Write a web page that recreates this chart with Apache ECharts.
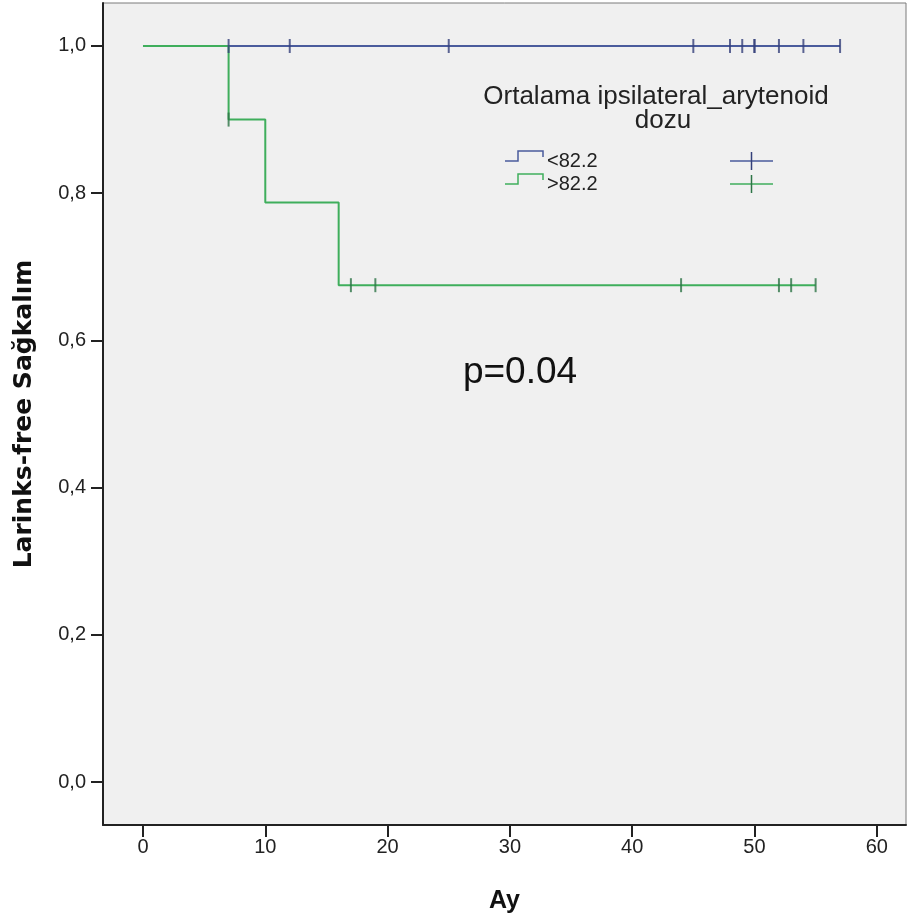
<!DOCTYPE html>
<html>
<head>
<meta charset="utf-8">
<script src="https://cdn.jsdelivr.net/npm/echarts@6/dist/echarts.min.js"></script>
<style>
  html, body { margin: 0; padding: 0; background: #ffffff; }
  #chart { width: 907px; height: 923px; }
</style>
</head>
<body>
<div id="chart"></div>
<script>
// Kaplan-Meier step curves (time in months, survival proportion)
const lowDoseTimes = [0, 57];
const lowDoseSurv = [1.0, 1.0];
const highDoseTimes = [0, 7, 10, 16, 55];
const highDoseSurv = [1.0, 0.9, 0.7875, 0.675, 0.675];

// Censored observations
const lowDoseCensorTimes = [7, 12, 25, 45, 48, 49, 50, 50, 52, 54, 57];
const lowDoseCensorSurv = [1, 1, 1, 1, 1, 1, 1, 1, 1, 1, 1];
const highDoseCensorTimes = [7, 17, 19, 44, 52, 53, 55];
const highDoseCensorSurv = [0.9, 0.675, 0.675, 0.675, 0.675, 0.675, 0.675];

// Axis ticks
const xTicks = [0, 10, 20, 30, 40, 50, 60];
const yTicks = [0, 0.2, 0.4, 0.6, 0.8, 1.0];

const groupNames = ['<82.2', '>82.2'];
const legendTitle = ['Ortalama ipsilateral_arytenoid', 'dozu'];
const pText = 'p=0.04';

const blue = '#4a5b9c';
const green = '#3fae5c';
const blueMark = '#34407a';
const greenMark = '#2d7446';

const pairs = (xs, ys) => xs.map((x, i) => [x, ys[i]]);

const chart = echarts.init(document.getElementById('chart'), null, { renderer: 'canvas' });

const baseFont = '"Liberation Sans", Arial, sans-serif';
const legendX = 505, legendY = 161, rowGap = 23;
const legendGraphics = [
  { type: 'text', x: 656, y: 97, style: { text: legendTitle[0], fill: '#222', font: '26px ' + baseFont, align: 'center', verticalAlign: 'middle' } },
  { type: 'text', x: 663, y: 121, style: { text: legendTitle[1], fill: '#222', font: '26px ' + baseFont, align: 'center', verticalAlign: 'middle' } }
];
[blue, green].forEach((c, i) => {
  const y = legendY + i * rowGap;
  legendGraphics.push(
    { type: 'polyline', shape: { points: [[legendX, y], [legendX + 13, y], [legendX + 13, y - 10], [legendX + 38, y - 10], [legendX + 38, y - 4]] }, style: { stroke: c, lineWidth: 1.5, fill: null } },
    { type: 'text', x: legendX + 42, y: y, style: { text: groupNames[i], fill: '#222', font: '20px ' + baseFont, verticalAlign: 'middle' } },
    { type: 'line', shape: { x1: 730, y1: y, x2: 773, y2: y }, style: { stroke: c, lineWidth: 1.5 } },
    { type: 'line', shape: { x1: 751.5, y1: y - 9, x2: 751.5, y2: y + 9 }, style: { stroke: i === 0 ? blueMark : greenMark, lineWidth: 1.5 } }
  );
});
legendGraphics.push({
  type: 'text', x: 520, y: 373,
  style: { text: pText, fill: '#111', font: '37px ' + baseFont, align: 'center', verticalAlign: 'middle' }
});

const option = {
  backgroundColor: '#ffffff',
  animation: false,
  grid: {
    left: 103, top: 3, right: 1, bottom: 98,
    show: true, backgroundColor: '#f0f0f0', borderColor: '#7a7a7a', borderWidth: 1
  },
  xAxis: {
    type: 'value',
    min: -3.27, max: 62.39,
    name: 'Ay', nameLocation: 'middle', nameGap: 64,
    nameTextStyle: { fontFamily: '"Liberation Sans Narrow", "Liberation Sans", Arial, sans-serif', fontWeight: 'bold', fontSize: 25, color: '#111' },
    axisLine: { onZero: false, lineStyle: { color: '#222', width: 2 } },
    axisTick: { show: true, customValues: xTicks, length: 12, lineStyle: { color: '#222', width: 2 } },
    axisLabel: { customValues: xTicks, fontFamily: baseFont, fontSize: 20, color: '#222', margin: 12 },
    splitLine: { show: false }
  },
  yAxis: {
    type: 'value',
    min: -0.0584, max: 1.0584,
    name: 'Larinks-free Sağkalım', nameLocation: 'middle', nameGap: 66,
    nameTextStyle: { fontFamily: '"DejaVu Sans", sans-serif', fontWeight: 'bold', fontSize: 25, color: '#111' },
    axisLine: { onZero: false, lineStyle: { color: '#222', width: 2 } },
    axisTick: { show: true, customValues: yTicks, length: 12, lineStyle: { color: '#222', width: 2 } },
    axisLabel: {
      customValues: yTicks, fontFamily: baseFont, fontSize: 20, color: '#222', margin: 17,
      formatter: v => v.toFixed(1).replace('.', ',')
    },
    splitLine: { show: false }
  },
  series: [
    { name: groupNames[0], type: 'line', step: 'end', data: pairs(lowDoseTimes, lowDoseSurv), showSymbol: false, lineStyle: { color: blue, width: 2 }, z: 2 },
    { name: groupNames[1], type: 'line', step: 'end', data: pairs(highDoseTimes, highDoseSurv), showSymbol: false, lineStyle: { color: green, width: 2 }, z: 3 },
    { type: 'scatter', data: pairs(lowDoseCensorTimes, lowDoseCensorSurv), symbol: 'rect', symbolSize: [2, 14], itemStyle: { color: blueMark }, z: 4 },
    { type: 'scatter', data: pairs(highDoseCensorTimes, highDoseCensorSurv), symbol: 'rect', symbolSize: [2, 14], itemStyle: { color: greenMark }, z: 4 }
  ],
  graphic: legendGraphics
};

chart.setOption(option);
</script>
</body>
</html>
